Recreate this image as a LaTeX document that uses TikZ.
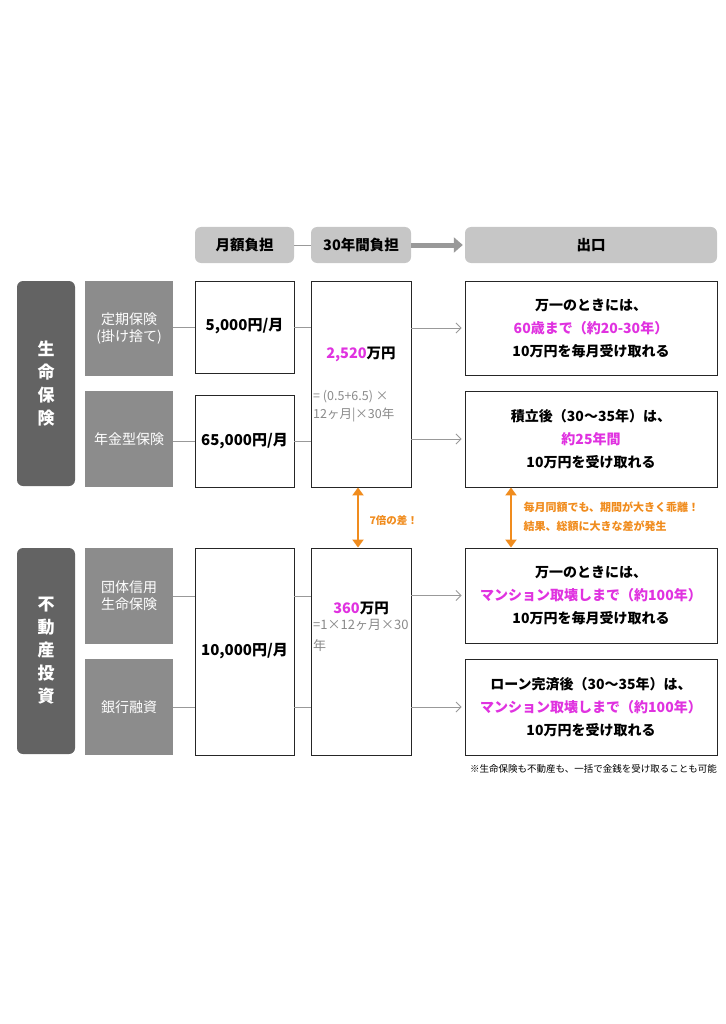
\documentclass[tikz,border=0pt]{standalone}
\usepackage{fontspec}
\setmainfont{Noto Sans CJK JP}[BoldFont={Noto Sans CJK JP Black}]
\usepackage{xcolor}
\usetikzlibrary{arrows.meta,positioning}
\definecolor{darkbox}{HTML}{636363}
\definecolor{midbox}{HTML}{8C8C8C}
\definecolor{hdrbox}{HTML}{C6C6C6}
\definecolor{hilite}{HTML}{E032E0}
\definecolor{warn}{HTML}{F08C1E}
\definecolor{formula}{HTML}{8A8A8A}

\begin{document}
\begin{tikzpicture}[x=1pt,y=-1pt,
    hdr/.style={fill=hdrbox, rounded corners=6pt, inner sep=0pt,
        font=\fontsize{14.5}{17}\selectfont\bfseries},
    cat/.style={fill=darkbox, rounded corners=6pt, text=white, inner sep=0pt,
        minimum width=58pt, align=center, font=\fontsize{17}{23}\selectfont\bfseries},
    sub/.style={fill=midbox, text=white, inner sep=0pt, minimum width=88pt,
        align=center, font=\fontsize{14}{17}\selectfont},
    val/.style={draw=black!85, line width=0.9pt, fill=white, inner sep=0pt,
        align=center, font=\fontsize{14}{23}\selectfont\bfseries},
    conn/.style={draw=gray!80, line width=0.8pt},
    arr/.style={conn, -{Straight Barb[length=5pt,width=10pt]}, shorten >=3pt},
    gap/.style={draw=warn, line width=2.6pt, {Triangle[length=8pt,width=11pt]}-{Triangle[length=8pt,width=11pt]}}
  ]
    \useasboundingbox (0,0) rectangle (725,1024);

    % Column headers
    \node[hdr, minimum width=99pt, minimum height=36pt] (hdrA) at (244.5,245) {月額負担};
    \node[hdr, minimum width=100pt, minimum height=36pt] (hdrB) at (361,245) {30年間負担};
    \node[hdr, minimum width=252pt, minimum height=36pt] (hdrC) at (591,245) {出口};
    \draw[conn] (hdrA) -- (hdrB);
    \draw[draw=gray!80, line width=5pt, -{Triangle[length=9pt,width=15pt]}, shorten >=2pt] (hdrB) -- (hdrC);

    % Categories
    \node[cat, minimum height=205pt] (life) at (46,383.5) {生\\命\\保\\険};
    \node[cat, minimum height=206pt] (estate) at (46,651) {不\\動\\産\\投\\資};

    \node[sub, minimum height=95pt] (teiki) at (129,328.5) {定期保険\\(掛け捨て)};
    \node[sub, minimum height=96pt] (nenkin) at (129,439) {年金型保険};
    \node[sub, minimum height=96pt] (dantai) at (129,596) {団体信用\\生命保険};
    \node[sub, minimum height=96pt] (ginko) at (129,707) {銀行融資};

    % Monthly burden
    \node[val, minimum width=99pt, minimum height=92pt] (m5000) at (244.5,327) {};
    \node[font=\fontsize{15}{17}\selectfont\bfseries, anchor=north] (m5000txt) at (244.5,315) {5,000円/月};
    \node[val, minimum width=99pt, minimum height=92pt, font=\fontsize{15}{17}\selectfont\bfseries] (m65000) at (244.5,441) {65,000円/月};
    \node[val, minimum width=99pt, minimum height=207pt, font=\fontsize{15}{17}\selectfont\bfseries] (m10000) at (244.5,651.5) {10,000円/月};

    % 30-year burden
    \node[val, minimum width=100pt, minimum height=206pt] (t2520) at (361,384) {};
    \node[font=\fontsize{14.5}{17}\selectfont\bfseries] (t2520val) at (361,354) {\textcolor{hilite}{2,520}万円};
    \node[anchor=north west, text=formula, align=left, inner sep=0pt,
        font=\fontsize{12.5}{18}\selectfont] (t2520f) at (313,390) {= (0.5+6.5) ×\\12ヶ月|×30年};
    \node[val, minimum width=100pt, minimum height=207pt] (t360) at (361,651.5) {};
    \node[font=\fontsize{14.5}{17}\selectfont\bfseries] (t360val) at (361,608) {\textcolor{hilite}{360}万円};
    \node[anchor=north west, text=formula, align=left, inner sep=0pt,
        font=\fontsize{13}{21}\selectfont] (t360f) at (313,619) {=1×12ヶ月×30\\年};

    % Exits
    \node[val, minimum width=252pt, minimum height=94pt] (e1) at (591,328)
        {万一のときには、\\\textcolor{hilite}{60歳まで（約20-30年）}\\10万円を毎月受け取れる};
    \node[val, minimum width=252pt, minimum height=96pt] (e2) at (591,439)
        {積立後（30〜35年）は、\\\textcolor{hilite}{約25年間}\\10万円を受け取れる};
    \node[val, minimum width=252pt, minimum height=95pt] (e3) at (591,595.5)
        {万一のときには、\\\textcolor{hilite}{マンション取壊しまで（約100年）}\\10万円を毎月受け取れる};
    \node[val, minimum width=252pt, minimum height=96pt] (e4) at (591,707)
        {ローン完済後（30〜35年）は、\\\textcolor{hilite}{マンション取壊しまで（約100年）}\\10万円を受け取れる};

    % Connectors
    \draw[conn] (teiki.east |- m5000) -- (m5000.west);
    \draw[conn] (nenkin.east |- m65000) -- (m65000.west);
    \draw[conn] (m5000.east) -- (m5000.east -| t2520.west);
    \draw[conn] (m65000.east) -- (m65000.east -| t2520.west);
    \draw[arr] (t2520.east |- e1) -- (e1.west);
    \draw[arr] (t2520.east |- e2) -- (e2.west);

    \draw[conn] (dantai.east) -- (dantai.east -| m10000.west);
    \draw[conn] (ginko.east) -- (ginko.east -| m10000.west);
    \draw[conn] (dantai -| m10000.east) -- (dantai -| t360.west);
    \draw[conn] (ginko -| m10000.east) -- (ginko -| t360.west);
    \draw[arr] (t360.east |- e3) -- (e3.west);
    \draw[arr] (t360.east |- e4) -- (e4.west);

    % Gap arrows
    \coordinate (gapA) at (358,0);
    \coordinate (gapB) at (511,0);
    \draw[gap] (t2520.south -| gapA) -- (t360.north -| gapA);
    \draw[gap] (e2.south -| gapB) -- (e3.north -| gapB);
    \node[anchor=west, text=warn, font=\fontsize{10.5}{13}\selectfont\bfseries] (gapAtxt) at (366,520) {7倍の差！};
    \node[anchor=west, text=warn, align=left, font=\fontsize{11}{19}\selectfont\bfseries] (gapBtxt) at (520,517)
        {毎月同額でも、期間が大きく乖離！\\結果、総額に大きな差が発生};

    % Note
    \node[anchor=east, inner sep=0pt, font=\fontsize{9.5}{11}\selectfont] (note) at (717,769)
        {※生命保険も不動産も、一括で金銭を受け取ることも可能};
\end{tikzpicture}
\end{document}
